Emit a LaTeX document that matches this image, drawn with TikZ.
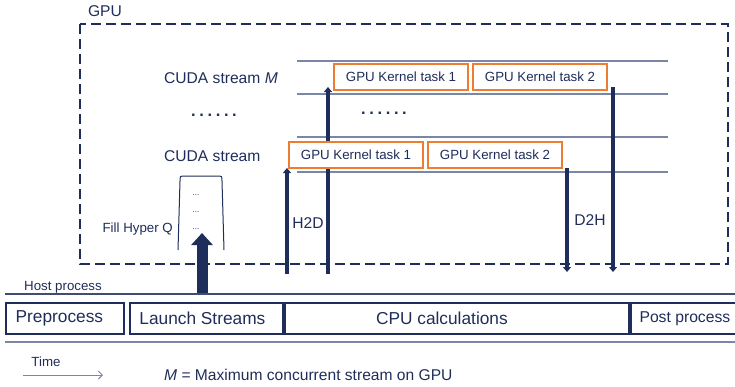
\documentclass[tikz,border=0pt]{standalone}
\usepackage{fontspec}
\setmainfont{Liberation Sans}
\usetikzlibrary{arrows.meta,positioning}
\definecolor{navy}{HTML}{1F2D5A}
\definecolor{lane}{HTML}{7A86A6}
\definecolor{kborder}{HTML}{ED7D31}

\begin{document}
\begin{tikzpicture}[x=1pt,y=-1pt,text=navy,
  lbl/.style={font=\fontsize{15.6}{18}\selectfont,inner sep=0pt},
  small/.style={font=\fontsize{13.3}{15}\selectfont,inner sep=0pt},
  kernel/.style={draw=kborder,line width=2.2pt,fill=white,minimum width=134pt,minimum height=26pt,inner sep=0pt,font=\fontsize{13.3}{15}\selectfont},
  proc/.style={draw=navy,line width=1.8pt,minimum height=31pt,inner sep=0pt},
  copyarrow/.style={draw=navy,line width=3.3pt,-{Triangle[length=5pt,width=8pt]}},
  dots/.style={font=\fontsize{16.5}{18}\selectfont\bfseries\addfontfeature{LetterSpace=22},inner sep=0pt}]
\useasboundingbox (0,0) rectangle (735,386);
% GPU box
\draw[navy,line width=2.4pt,dash pattern=on 10pt off 5pt] (80,24) rectangle (728,264);
\node[lbl] (gpu) at (105,11) {GPU};
% stream lanes
\foreach \y in {61,94,137,172}
  \draw[lane,line width=1.2pt] (297,\y) -- (668,\y);
\node[lbl,anchor=west] (streamM) at (164,78) {CUDA stream \textit{M}};
\node[dots] (vdots) at (214,115) {......};
\node[lbl,anchor=west] (stream1) at (164,156) {CUDA stream};
\node[dots] (hdots) at (384,113) {......};
% copies (under the kernels)
\coordinate (h2d1) at (287,274);
\coordinate (h2dM) at (328,274);
\coordinate (d2h1) at (567,272);
\coordinate (d2hM) at (613,272);
\coordinate (kMtop) at (0,90);
\coordinate (k1top) at (0,168);
\draw[copyarrow] (h2d1) -- (h2d1 |- k1top);
\draw[copyarrow] (h2dM) -- ([yshift=3pt]h2dM |- kMtop);
\draw[copyarrow] (d2h1 |- k1top) -- (d2h1);
\draw[copyarrow] ([yshift=3pt]d2hM |- kMtop) -- (d2hM);
% kernels
\foreach \name/\x/\y/\lab in {kMa/401/77/GPU Kernel task 1,kMb/540/77/GPU Kernel task 2,
    k1a/356/155/GPU Kernel task 1,k1b/495/155/GPU Kernel task 2}
  \node[kernel] (\name) at (\x,\y) {\lab};
\node[lbl] (h2d) at (308,223) {H2D};
\node[lbl] (d2h) at (590,220) {D2H};
% hyper Q
\draw[navy,line width=1pt] (178,250) -- (180,181) .. controls (180,176) .. (185,176)
  -- (217,176) .. controls (222,176) .. (222,181) -- (224,250);
\foreach \y in {195,212,229}
  \node[font=\fontsize{8}{9}\selectfont,inner sep=0pt] at (196,\y) {...};
\node[small,anchor=east] (fillq) at (173,229) {Fill Hyper Q};
\coordinate (hqin) at (202,233);
\coordinate (hqout) at (202,294);
\draw[navy,line width=11pt,-{Triangle[length=12pt,width=21pt]}] (hqout) -- (hqin);
% host
\node[small,anchor=west] (host) at (24,287) {Host process};
\draw[navy!85,line width=1.2pt] (5,294) -- (740,294);
\draw[lane,line width=1.2pt] (5,342) -- (740,342);
\foreach \name/\x/\w/\dx/\fs/\lab in {pre/5/118/-5.5/17.3/Preprocess,launch/129/153/-4/17.3/Launch Streams,
    cpu/284/344/-15/17.3/CPU calculations,post/630/120/-6/15.7/Post process}{
  \node[proc,anchor=north west,minimum width=\w pt] (\name) at (\x,302) {};
  \node[font=\fontsize{\fs}{20}\selectfont,inner sep=0pt] at ([xshift=\dx pt]\name.center) {\lab};
}
% legend
\node[small] (time) at (46,362) {Time};
\coordinate (t0) at (23,375);
\coordinate (t1) at (103,375);
\draw[lane,line width=1pt,-{Straight Barb[length=4pt,width=8pt]}] (t0) -- (t1);
\node[lbl,anchor=west] (legend) at (164,375) {\textit{M} = Maximum concurrent stream on GPU};
\end{tikzpicture}
\end{document}
